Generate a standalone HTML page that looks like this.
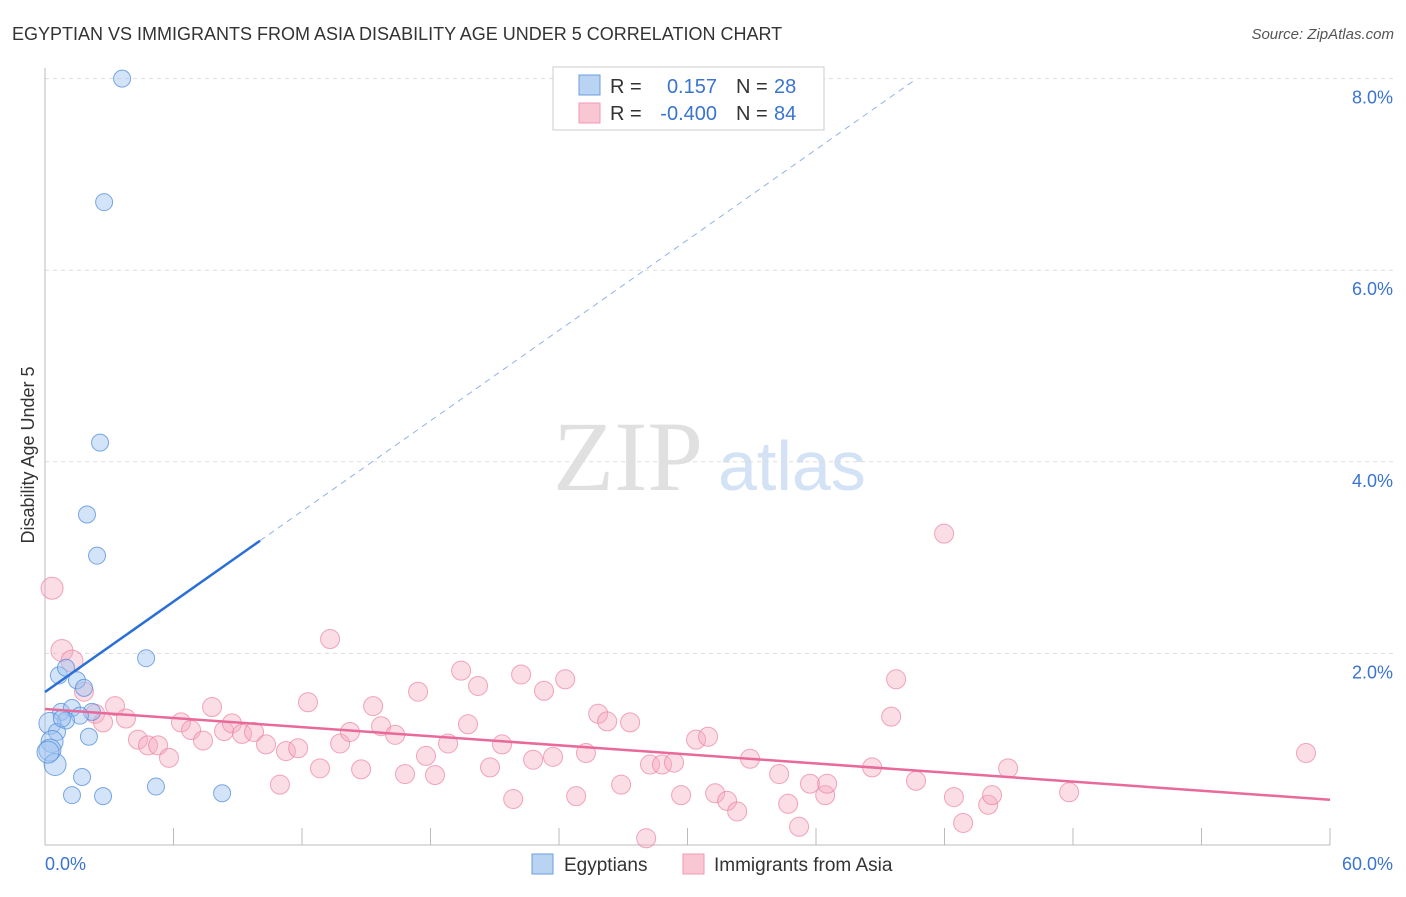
<!DOCTYPE html>
<html><head><meta charset="utf-8"><style>
body{margin:0;background:#fff;font-family:"Liberation Sans",sans-serif;}
</style></head><body>
<svg id="c" width="1406" height="892" font-family="Liberation Sans, sans-serif">
<text x="12" y="40" font-size="18" fill="#333">EGYPTIAN VS IMMIGRANTS FROM ASIA DISABILITY AGE UNDER 5 CORRELATION CHART</text>
<text x="1394" y="39" font-size="15" fill="#555" font-style="italic" text-anchor="end">Source: ZipAtlas.com</text>
<text x="34" y="455" font-size="18" fill="#333" text-anchor="middle" transform="rotate(-90 34 455)">Disability Age Under 5</text>
<text x="553" y="490" font-size="100" fill="#e0e0e0" style="font-family:'Liberation Serif',serif">ZIP</text>
<text x="718" y="490" font-size="70" fill="#d3e2f5">atlas</text>
<g id="grid"></g><g id="axes"></g><g id="pts"></g><g id="lines"></g>
<g>
<rect x="553" y="67" width="271" height="63" fill="#fff" stroke="#ccc"/>
<rect x="579" y="75" width="21" height="20" fill="#b9d3f3" stroke="#6a9ee0"/>
<rect x="579" y="103" width="21" height="20" fill="#f9c6d4" stroke="#f29ab4"/>
<text x="610" y="93" font-size="20" fill="#333">R =</text><text x="717" y="93" font-size="20" fill="#3a74d0" text-anchor="end">0.157</text>
<text x="736" y="93" font-size="20" fill="#333">N =</text><text x="774" y="93" font-size="20" fill="#3a74d0">28</text>
<text x="610" y="120" font-size="20" fill="#333">R =</text><text x="717" y="120" font-size="20" fill="#3a74d0" text-anchor="end">-0.400</text>
<text x="736" y="120" font-size="20" fill="#333">N =</text><text x="774" y="120" font-size="20" fill="#3a74d0">84</text>
</g>
<g>
<rect x="532" y="854" width="21" height="20" fill="#b9d3f3" stroke="#6a9ee0"/>
<text x="564" y="871" font-size="19" fill="#333">Egyptians</text>
<rect x="683" y="854" width="21" height="20" fill="#f9c6d4" stroke="#f29ab4"/>
<text x="714" y="871" font-size="19" fill="#333">Immigrants from Asia</text>
</g>
</svg>
<script>
const blueX=[3.60,2.76,2.57,1.96,2.43,4.72,0.65,0.98,1.49,1.82,0.75,1.26,2.19,1.63,0.98,0.23,0.56,2.05,0.33,0.23,0.47,0.14,1.73,1.26,2.71,5.18,8.27,0.79];
const blueY=[8.00,6.71,4.20,3.45,3.02,1.95,1.77,1.85,1.72,1.64,1.39,1.43,1.39,1.35,1.30,1.27,1.18,1.13,1.08,0.99,0.84,0.97,0.71,0.52,0.51,0.61,0.54,1.32];
const pinkX=[0.33,0.79,1.26,1.82,2.34,2.71,3.27,3.78,4.34,4.81,5.28,5.79,6.35,6.82,7.38,7.80,8.36,8.73,9.20,9.76,10.32,10.97,11.25,11.82,12.28,12.84,13.31,13.78,14.24,14.76,15.32,15.69,16.35,16.81,17.42,17.79,18.21,18.82,19.43,19.75,20.22,20.78,21.34,21.86,22.23,22.79,23.30,23.72,24.29,24.80,25.26,25.83,26.25,26.90,27.32,28.07,28.25,28.81,29.37,29.70,30.40,30.96,31.29,31.85,32.32,32.92,34.28,34.70,35.21,35.72,36.43,36.52,38.62,39.51,39.74,40.67,41.98,42.44,42.87,44.04,44.22,44.97,47.82,58.88];
const pinkY=[2.68,2.03,1.92,1.60,1.37,1.28,1.45,1.32,1.10,1.04,1.04,0.91,1.28,1.20,1.09,1.44,1.19,1.27,1.16,1.18,1.05,0.63,0.98,1.01,1.49,0.80,2.15,1.06,1.18,0.79,1.45,1.24,1.15,0.74,1.60,0.93,0.73,1.06,1.82,1.26,1.66,0.81,1.05,0.48,1.78,0.89,1.61,0.92,1.73,0.51,0.96,1.37,1.29,0.63,1.28,0.07,0.84,0.84,0.86,0.52,1.10,1.13,0.54,0.46,0.35,0.90,0.74,0.43,0.19,0.64,0.52,0.64,0.81,1.34,1.73,0.67,3.25,0.50,0.23,0.42,0.52,0.80,0.55,0.96];
const yTicks=[2,4,6,8];
const xTickLabels=["0.0%","60.0%"];
const blueFit=[1.597,0.1573], pinkFit=[1.42,-0.0158];
const NS="http://www.w3.org/2000/svg";
const X=v=>45+v/60*1285, Y=v=>845-v*95.8;
function mk(p,t,a){const e=document.createElementNS(NS,t);for(const k in a)e.setAttribute(k,a[k]);document.getElementById(p).appendChild(e);return e;}
yTicks.forEach(t=>{
 const l=mk('grid','line',{x1:45,x2:1393,y1:Y(t),y2:Y(t),stroke:'#ddd','stroke-dasharray':'4,4'});
 
 
 const tx=mk('grid','text',{x:1393,y:Y(t)+25,'font-size':18,fill:'#3a74d0','text-anchor':'end'});
 tx.textContent=t.toFixed(1)+'%';
 
 
});
mk('axes','line',{x1:45,x2:45,y1:68,y2:845,stroke:'#bbb'});
mk('axes','line',{x1:45,x2:1330,y1:845,y2:845,stroke:'#bbb'});
for(let i=0;i<=10;i++){const t=mk('axes','line',{x1:X(i*6),x2:X(i*6),y1:828,y2:845,stroke:'#bbb'});
 
 }
const t0=mk('axes','text',{x:45,y:870,'font-size':18,fill:'#3a74d0'});t0.textContent=xTickLabels[0];


const t1=mk('axes','text',{x:1393,y:870,'font-size':18,fill:'#3a74d0','text-anchor':'end'});t1.textContent=xTickLabels[1];


pinkX.forEach((x,i)=>{const c=mk('pts','circle',{cx:X(x),cy:Y(pinkY[i]),r:i<3?11:9.5,fill:'rgba(246,170,192,0.4)',stroke:'rgba(236,130,160,0.7)'});
 
 });
blueX.forEach((x,i)=>{const c=mk('pts','circle',{cx:X(x),cy:Y(blueY[i]),r:(blueX[i]<0.5&&blueY[i]<1.3)?11:8.5,fill:'rgba(160,196,240,0.45)',stroke:'rgba(80,140,220,0.75)'});
 
 });
const bl=mk('lines','line',{x1:X(0),y1:Y(blueFit[0]),x2:X(10.04),y2:Y(blueFit[0]+blueFit[1]*10.04),stroke:'#2a6fd6','stroke-width':2.5});


const bd=mk('lines','line',{x1:X(10.04),y1:Y(blueFit[0]+blueFit[1]*10.04),x2:X(40.67),y2:Y(blueFit[0]+blueFit[1]*40.67),stroke:'#8fb3e6','stroke-width':1,'stroke-dasharray':'6,5'});


const pl=mk('lines','line',{x1:X(0),y1:Y(pinkFit[0]),x2:X(60),y2:Y(pinkFit[0]+pinkFit[1]*60),stroke:'#e8699a','stroke-width':2.5});


</script>
</body></html>
